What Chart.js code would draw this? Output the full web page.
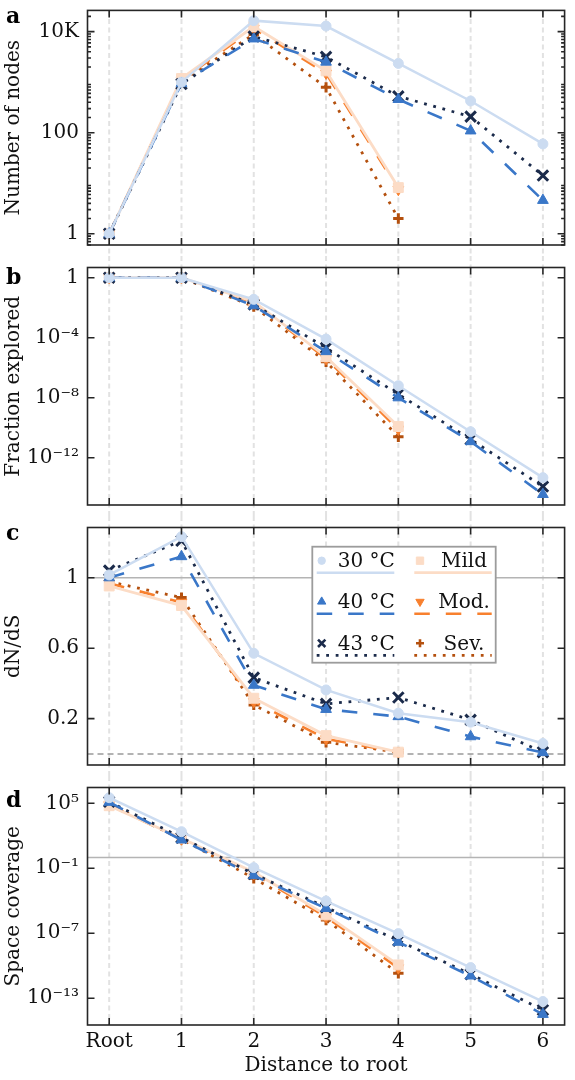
<!DOCTYPE html>
<html>
<head>
<meta charset="utf-8">
<script src="https://cdn.jsdelivr.net/npm/chart.js@4/dist/chart.umd.min.js"></script>
<style>
  html, body { margin: 0; padding: 0; background: #fff; }
  body { width: 575px; height: 1080px; position: relative; overflow: hidden; }
  canvas { position: absolute; left: 0; }
</style>
</head>
<body>
<canvas id="nodesChart" width="575" height="256" style="top:0px"></canvas>
<canvas id="fractionChart" width="575" height="260" style="top:256px"></canvas>
<canvas id="dndsChart" width="575" height="260" style="top:516px"></canvas>
<canvas id="coverageChart" width="575" height="304" style="top:776px"></canvas>
<script>
// x categories (distance to root)
const distLabels = ['Root', '1', '2', '3', '4', '5', '6'];
const seriesNames = ['30 °C', '40 °C', '43 °C', 'Mild', 'Mod.', 'Sev.'];

// a: number of nodes
const nodes30   = [1, 1000, 16500, 12900, 2350, 424, 60];
const nodes40   = [1, 950, 7200, 2500, 457, 109, 4.6];
const nodes43   = [1, 920, 8000, 3160, 525, 208, 14.2];
const nodesMild = [1, 1180, 12600, 1670, 8.2];
const nodesMod  = [1, 1100, 11500, 1500, 7.5];
const nodesSev  = [1, 1050, 8800, 790, 2.0];

// b: fraction explored
const frac30   = [1, 1, 3.6e-2, 8.1e-5, 6.3e-8, 5.4e-11, 4.7e-14];
const frac40   = [1, 1, 1.35e-2, 1.2e-5, 1.0e-8, 1.2e-11, 3.6e-15];
const frac43   = [1, 1, 1.66e-2, 2.1e-5, 1.7e-8, 1.7e-11, 1.2e-14];
const fracMild = [1, 1, 2.5e-2, 5.4e-6, 1.2e-10];
const fracMod  = [1, 1, 2.2e-2, 4.0e-6, 7.9e-11];
const fracSev  = [1, 1, 1.2e-2, 2.5e-6, 2.5e-11];

// c: dN/dS
const dnds30   = [1.016, 1.233, 0.571, 0.363, 0.231, 0.18, 0.059];
const dnds40   = [1.0, 1.12, 0.39, 0.253, 0.212, 0.098, 0.008];
const dnds43   = [1.04, 1.21, 0.433, 0.284, 0.32, 0.193, 0.01];
const dndsMild = [0.953, 0.842, 0.316, 0.104, 0.01];
const dndsMod  = [0.968, 0.86, 0.297, 0.085, 0.01];
const dndsSev  = [0.978, 0.887, 0.278, 0.066, 0.01];

// d: space coverage
const cov30   = [3.3e5, 240, 0.115, 9.5e-5, 9.3e-8, 6.8e-11, 5.0e-14];
const cov40   = [1.26e5, 42, 2.1e-2, 2.0e-5, 1.5e-8, 1.15e-11, 3.3e-15];
const cov43   = [1.4e5, 68, 3.0e-2, 2.5e-5, 2.1e-8, 1.66e-11, 8.3e-15];
const covMild = [6.0e4, 59, 4.3e-2, 5.0e-6, 1.2e-10];
const covMod  = [7.1e4, 50, 3.2e-2, 3.2e-6, 6.3e-11];
const covSev  = [7.9e4, 50, 1.2e-2, 1.7e-6, 2.0e-11];

// y tick values and labels
const nodesTicks = [1, 100, 1e4];
const nodesTickLabels = ['1', '100', '10K'];
const fracTicks = [1, 1e-4, 1e-8, 1e-12];
const fracTickLabels = ['1', '10⁻⁴', '10⁻⁸', '10⁻¹²'];
const dndsTicks = [0.2, 0.6, 1];
const dndsTickLabels = ['0.2', '0.6', '1'];
const covTicks = [1e5, 1e-1, 1e-7, 1e-13];
const covTickLabels = ['10⁵', '10⁻¹', '10⁻⁷', '10⁻¹³'];

const FONT = "'DejaVu Serif', serif";

// line / marker look of each series
const styles = [
  {color: '#ccdcf1', dash: [], lw: 2.5, shape: 'circle', rot: 0, r: 5, pw: 1, lr: 3.7},
  {color: '#3a77c8', dash: [15.5, 16], lw: 2.6, shape: 'triangle', rot: 0, r: 6.2, pw: 1, lr: 4.8},
  {color: '#1b2b4b', dash: [2.8, 6.7], lw: 2.8, shape: 'crossRot', rot: 0, r: 7.4, pw: 3, lr: 5.2},
  {color: '#fcdcc6', dash: [], lw: 2.8, shape: 'rect', rot: 0, r: 7, pw: 1, lr: 5.2},
  {color: '#f8802e', dash: [15.5, 16], lw: 2.6, shape: 'triangle', rot: 180, r: 6.2, pw: 1, lr: 4.8},
  {color: '#b4500e', dash: [2.8, 6.7], lw: 2.8, shape: 'cross', rot: 0, r: 5.2, pw: 3, lr: 4}
];

function buildDatasets(series) {
  return series.map((vals, k) => {
    const s = styles[k];
    return {
      label: seriesNames[k],
      data: vals.map((v, i) => ({x: i, y: v})),
      borderColor: s.color,
      backgroundColor: s.color,
      borderWidth: s.lw,
      borderDash: s.dash,
      pointStyle: s.shape,
      pointRotation: s.rot,
      pointRadius: s.r,
      pointHoverRadius: s.r,
      pointBackgroundColor: s.color,
      pointBorderColor: s.color,
      pointBorderWidth: s.pw,
      tension: 0,
      fill: false
    };
  });
}

// frame, inward ticks, dashed guides and panel letter
const framePlugin = {
  id: 'frame',
  beforeDatasetsDraw(chart, args, o) {
    const ctx = chart.ctx, a = chart.chartArea, x = chart.scales.x, y = chart.scales.y;
    ctx.save();
    ctx.strokeStyle = '#e2e2e2';
    ctx.lineWidth = 2;
    ctx.setLineDash([5, 3.5]);
    const top = o.guideFromArea ? a.top : 0;
    const bottom = o.guideToArea ? a.bottom : chart.height;
    distLabels.forEach((_, i) => {
      const px = x.getPixelForValue(i);
      ctx.beginPath(); ctx.moveTo(px, top); ctx.lineTo(px, bottom); ctx.stroke();
    });
    (o.refLines || []).forEach(r => {
      const py = y.getPixelForValue(r.value);
      ctx.strokeStyle = r.color;
      ctx.lineWidth = r.width;
      ctx.setLineDash(r.dash);
      ctx.beginPath(); ctx.moveTo(a.left, py); ctx.lineTo(a.right, py); ctx.stroke();
    });
    ctx.restore();
  },
  afterDatasetsDraw(chart, args, o) {
    const ctx = chart.ctx, a = chart.chartArea, x = chart.scales.x, y = chart.scales.y;
    ctx.save();
    ctx.strokeStyle = '#262626';
    ctx.lineWidth = 1.6;
    ctx.setLineDash([]);
    ctx.strokeRect(a.left, a.top, a.width, a.height);
    ctx.beginPath();
    distLabels.forEach((_, i) => {
      const px = x.getPixelForValue(i);
      ctx.moveTo(px, a.bottom); ctx.lineTo(px, a.bottom - 7);
      ctx.moveTo(px, a.top); ctx.lineTo(px, a.top + 7);
    });
    y.ticks.forEach(t => {
      const py = y.getPixelForValue(t.value);
      ctx.moveTo(a.left, py); ctx.lineTo(a.left + 7, py);
      ctx.moveTo(a.right, py); ctx.lineTo(a.right - 7, py);
    });
    (o.minor || []).forEach(v => {
      const py = y.getPixelForValue(v);
      if (py < a.top || py > a.bottom) return;
      ctx.moveTo(a.left, py); ctx.lineTo(a.left + 3.5, py);
      ctx.moveTo(a.right, py); ctx.lineTo(a.right - 3.5, py);
    });
    ctx.stroke();
    ctx.fillStyle = '#000';
    ctx.font = 'bold 22px ' + FONT;
    ctx.textAlign = 'left';
    ctx.textBaseline = 'alphabetic';
    ctx.fillText(o.letter, 6, a.top + o.letterDy);
    ctx.restore();
  }
};

// boxed two-column legend of panel c
const boxLegend = {
  id: 'boxLegend',
  afterDraw(chart, args, o) {
    if (!o.show) return;
    const ctx = chart.ctx;
    ctx.save();
    ctx.fillStyle = '#fff';
    ctx.fillRect(312.3, 30.7, 183.4, 116);
    ctx.strokeStyle = '#9c9c9c';
    ctx.lineWidth = 1.8;
    ctx.strokeRect(312.3, 30.7, 183.4, 116);
    const rows = [44.7, 85.7, 127.3];
    const cols = [
      {mx: 321.7, tx: 366.3, l0: 316.7, l1: 394.3},
      {mx: 420, tx: 464, l0: 414.3, l1: 491.7}
    ];
    chart.data.datasets.forEach((ds, k) => {
      const s = styles[k];
      const c = cols[Math.floor(k / 3)], ry = rows[k % 3];
      ctx.setLineDash([]);
      ctx.fillStyle = s.color;
      ctx.strokeStyle = s.color;
      ctx.lineWidth = s.pw > 1 ? 2.6 : 1;
      Chart.helpers.drawPoint(ctx, {pointStyle: s.shape, rotation: s.rot, radius: s.lr, borderWidth: ctx.lineWidth}, c.mx, ry);
      ctx.fillStyle = '#111';
      ctx.font = '20px ' + FONT;
      ctx.textAlign = 'center';
      ctx.textBaseline = 'alphabetic';
      ctx.fillText(ds.label, c.tx, ry + 6.6);
      ctx.strokeStyle = s.color;
      ctx.lineWidth = s.lw;
      ctx.setLineDash(s.dash);
      ctx.beginPath();
      ctx.moveTo(c.l0, ry + 12); ctx.lineTo(c.l1, ry + 12);
      ctx.stroke();
    });
    ctx.restore();
  }
};

function makePanel(id, cfg) {
  const showX = !!cfg.showX;
  return new Chart(document.getElementById(id), {
    type: 'line',
    data: {datasets: buildDatasets(cfg.series)},
    plugins: [framePlugin, boxLegend],
    options: {
      responsive: false,
      animation: false,
      events: [],
      layout: {padding: {left: 0, right: 6, top: cfg.padTop, bottom: cfg.padBottom}},
      scales: {
        x: {
          type: 'linear',
          min: -0.3,
          max: 6.3,
          display: showX,
          grid: {display: false, drawTicks: false},
          border: {display: false},
          afterBuildTicks: s => { s.ticks = distLabels.map((_, i) => ({value: i})); },
          afterFit: s => {
            if (showX) s.height = 55;
            s.paddingLeft = 0; s.paddingRight = 0;
          },
          ticks: {
            autoSkip: false, maxRotation: 0, padding: 5, color: '#111',
            font: {family: FONT, size: 20},
            callback: v => distLabels[v]
          },
          title: {
            display: showX, text: 'Distance to root', color: '#111',
            font: {family: FONT, size: 20}, padding: {top: 0, bottom: 2.4}
          }
        },
        y: {
          type: cfg.yType,
          min: cfg.yMin,
          max: cfg.yMax,
          grid: {display: false, drawTicks: false},
          border: {display: false},
          afterBuildTicks: s => { s.ticks = cfg.ticks.map(v => ({value: v})); },
          afterFit: s => {
            s.width = 87.5;
            s.paddingTop = 0; s.paddingBottom = 0;
          },
          ticks: {
            autoSkip: false, padding: 8.5, color: '#111',
            font: {family: FONT, size: 20},
            callback: (v, i) => cfg.tickLabels[i]
          },
          title: {
            display: true, text: cfg.title, color: '#111',
            font: {family: FONT, size: 20}, padding: {top: 2, bottom: 0}
          }
        }
      },
      plugins: {
        legend: {display: false},
        tooltip: {enabled: false},
        frame: {
          letter: cfg.letter, letterDy: cfg.letterDy, minor: cfg.minor || [],
          refLines: cfg.refLines || [],
          guideFromArea: !!cfg.guideFromArea, guideToArea: !!cfg.guideToArea
        },
        boxLegend: {show: !!cfg.legend}
      }
    }
  });
}

// minor log ticks for panel a
const nodesMinor = [];
for (let e = -1; e <= 4; e++) {
  for (let m = 2; m <= 9; m++) nodesMinor.push(m * Math.pow(10, e));
}

makePanel('nodesChart', {
  series: [nodes30, nodes40, nodes43, nodesMild, nodesMod, nodesSev],
  yType: 'logarithmic', yMin: Math.pow(10, -0.208), yMax: Math.pow(10, 4.42),
  ticks: nodesTicks, tickLabels: nodesTickLabels, title: 'Number of nodes',
  padTop: 7.5, padBottom: 11, letter: 'a', letterDy: 12.5, minor: nodesMinor,
  guideFromArea: true
});

makePanel('fractionChart', {
  series: [frac30, frac40, frac43, fracMild, fracMod, fracSev],
  yType: 'logarithmic', yMin: Math.pow(10, -15.15), yMax: Math.pow(10, 0.68),
  ticks: fracTicks, tickLabels: fracTickLabels, title: 'Fraction explored',
  padTop: 11.5, padBottom: 11, letter: 'b', letterDy: 16.8
});

makePanel('dndsChart', {
  series: [dnds30, dnds40, dnds43, dndsMild, dndsMod, dndsSev],
  yType: 'linear', yMin: -0.063, yMax: 1.285,
  ticks: dndsTicks, tickLabels: dndsTickLabels, title: 'dN/dS',
  padTop: 11.5, padBottom: 11, letter: 'c', letterDy: 12.5,
  refLines: [
    {value: 1, color: '#b4b4b4', width: 1.6, dash: []},
    {value: 0, color: '#9a9a9a', width: 1.5, dash: [6, 4]}
  ],
  legend: true
});

makePanel('coverageChart', {
  series: [cov30, cov40, cov43, covMild, covMod, covSev],
  yType: 'logarithmic', yMin: Math.pow(10, -15.47), yMax: Math.pow(10, 6.46),
  ticks: covTicks, tickLabels: covTickLabels, title: 'Space coverage',
  padTop: 11.5, padBottom: 0, letter: 'd', letterDy: 19.2, showX: true,
  refLines: [{value: 1, color: '#b4b4b4', width: 1.6, dash: []}],
  guideToArea: true
});
</script>
</body>
</html>
